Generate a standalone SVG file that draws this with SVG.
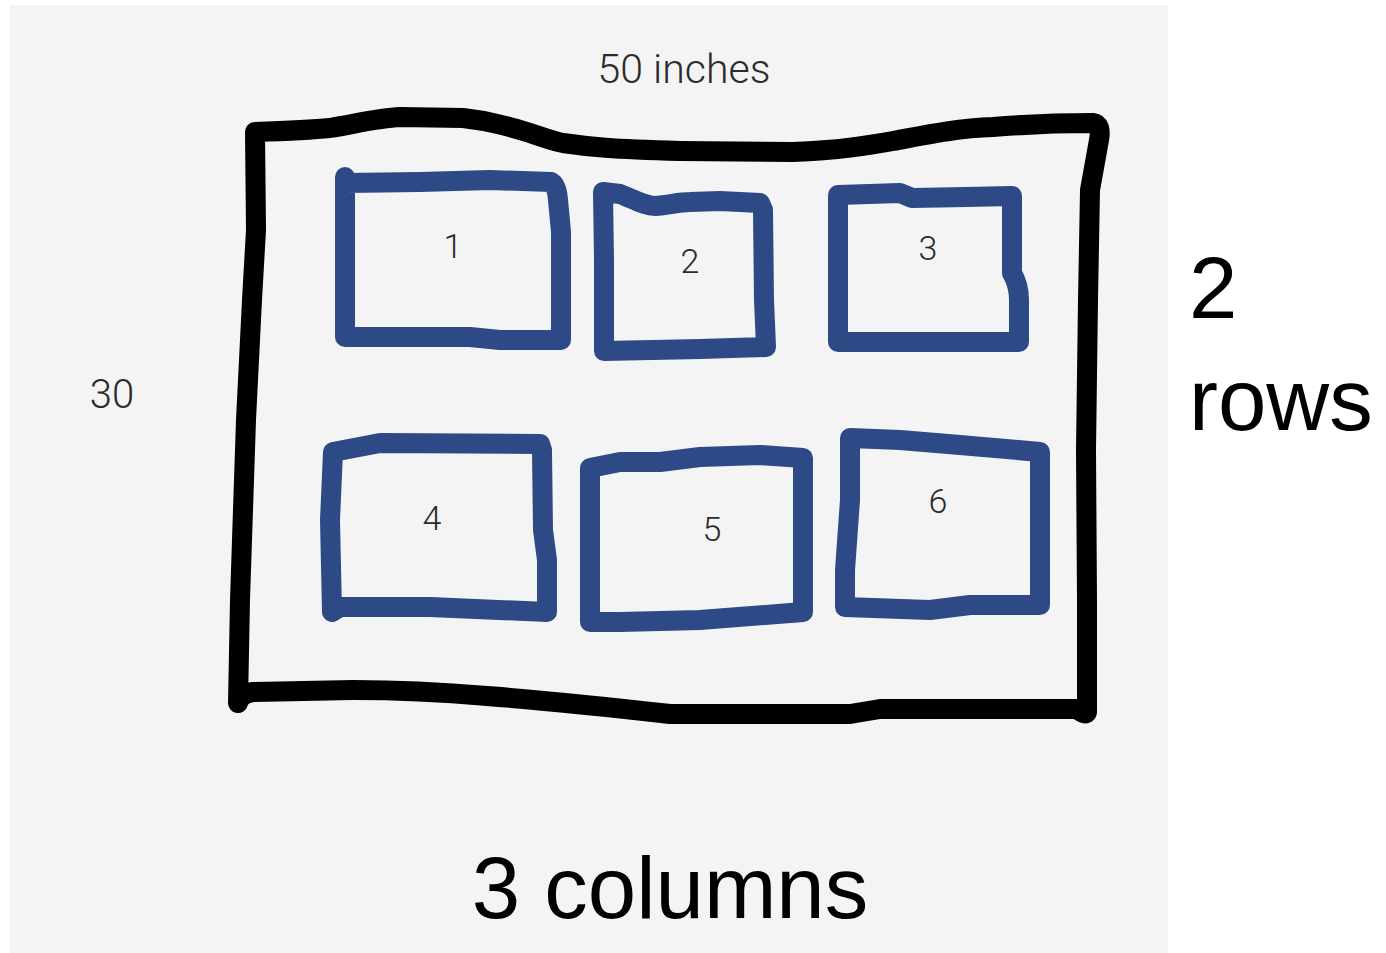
<svg xmlns="http://www.w3.org/2000/svg" width="1386" height="953" viewBox="0 0 1386 953">
<style>
.sheet{fill:none;stroke:#000;stroke-width:20;stroke-linecap:round;stroke-linejoin:round}
.box{fill:none;stroke:#2d4a86;stroke-width:20;stroke-linecap:round;stroke-linejoin:round}
.lbl{font-family:Roboto,"Liberation Sans",sans-serif;font-weight:300;fill:#2b2b2b;text-anchor:middle}
.num{font-size:34px}
.big{font-family:"Liberation Sans",Arial,sans-serif;font-size:87px;fill:#000}
</style>
<rect x="0" y="0" width="1386" height="953" fill="#ffffff"/>
<rect x="10" y="5" width="1158" height="948" fill="#f4f4f4"/>
<g id="sheet">
<path class="sheet" d="M255 132 C285 131 310 130 330 128 C355 124 378 118 400 117 L463 118 C490 121 510 127 530 133 C545 138 552 141 563 143 C590 147 610 149 680 151 L793 152 C840 150 865 146 893 141 C930 134 960 128 993 127 C1030 124 1060 123 1093 123 Q1102 124 1099 140 L1090 190 L1088 300 L1086 450 L1087 600 L1087 712 Q1086 716 1077 709 L880 709 L850 714 L670 714 C600 706 540 700 487 696 C440 692 400 690 353 690 L253 692 Q240 694 238 703 L240 600 L246 420 L252 300 L256 230 Z"/>
</g>
<g id="box1">
<path class="box" d="M345 177 L345 183 L420 182 L490 180 L551 182 Q557 185 558 200 L561 232 L561 340 L500 340 L470 337 L345 337 Z"/>
<text class="lbl num" x="453" y="258">1</text>
</g>
<g id="box2">
<path class="box" d="M603 192 L620 194 C635 200 645 206 655 206 C670 205 678 202 690 202 L720 201 L760 203 L763 210 L764 300 L766 347 L700 349 L604 351 L604 260 Z"/>
<text class="lbl num" x="690" y="273">2</text>
</g>
<g id="box3">
<path class="box" d="M838 195 L900 193 L912 198 L966 197 L1012 196 L1012 273 Q1019 285 1019 300 L1019 342 L838 342 Z"/>
<text class="lbl num" x="928" y="260">3</text>
</g>
<g id="box4">
<path class="box" d="M333 452 L380 443 L540 444 L542 450 L543 530 L547 560 L547 612 L430 607 L340 607 L332 612 L330 520 Z"/>
<text class="lbl num" x="432" y="530">4</text>
</g>
<g id="box5">
<path class="box" d="M590 468 L620 462 L660 462 L700 457 L760 455 L803 458 L803 612 L700 620 L620 622 L590 622 Z"/>
<text class="lbl num" x="712" y="541">5</text>
</g>
<g id="box6">
<path class="box" d="M850 438 L900 440 L960 445 L1040 452 L1040 605 L970 605 L930 610 L845 607 L845 570 L850 500 Z"/>
<text class="lbl num" x="938" y="513">6</text>
</g>
<g id="labels">
<text class="lbl" x="684" y="83" font-size="41">50 inches</text>
<text class="lbl" x="112" y="408" font-size="40">30</text>
<text class="big" x="1189" y="318">2</text>
<text class="big" x="1189" y="430">rows</text>
<text class="big" x="670" y="918" text-anchor="middle">3 columns</text>
</g>
<g id="connectors"/>
</svg>
